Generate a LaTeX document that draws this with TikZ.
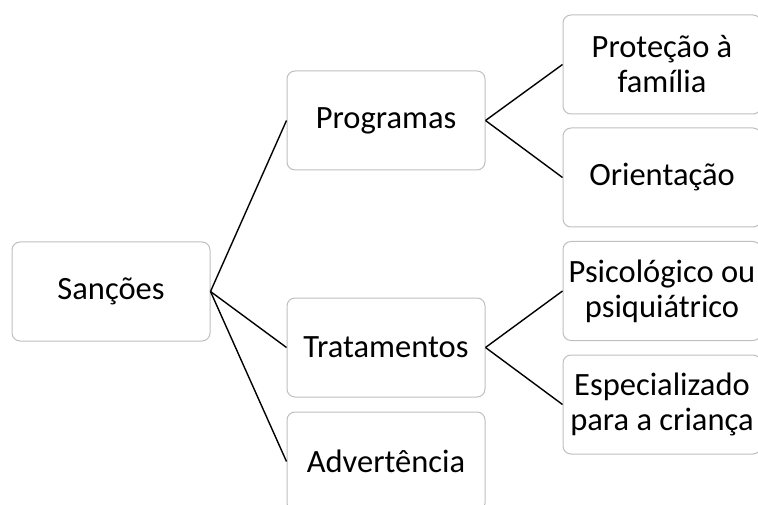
\documentclass[tikz,border=0pt]{standalone}
\usepackage{fontspec}
\setmainfont{Carlito}
\begin{document}
\begin{tikzpicture}[x=1pt,y=-1pt,
  box/.style={draw=black!25, line width=1pt, rounded corners=8pt, fill=white,
    minimum width=198pt, minimum height=99pt, inner sep=0pt, align=center,
    font=\fontsize{32.5}{35}\selectfont},
  conn/.style={draw=black, line width=1.4pt}]
\useasboundingbox (0,0) rectangle (758,505);
\clip (0,0) rectangle (758,505);
\node[box] (s) at (111,291.5) {Sanções};
\node[box] (p) at (386,120.5) {Programas};
\node[box] (t) at (386,347.5) {Tratamentos};
\node[box] (a) at (386,461.5) {Advertência};
\node[box] (pf) at (662,64.5) {Proteção à\\família};
\node[box] (o) at (662,177.5) {Orientação};
\node[box] (ps) at (662,291) {Psicológico ou\\psiquiátrico};
\node[box] (e) at (662,404.5) {Especializado\\para a criança};
\draw[conn] (s.east) -- (p.west);
\draw[conn] (s.east) -- (t.west);
\draw[conn] (s.east) -- (a.west);
\draw[conn] (p.east) -- (pf.west);
\draw[conn] (p.east) -- (o.west);
\draw[conn] (t.east) -- (ps.west);
\draw[conn] (t.east) -- (e.west);
\end{tikzpicture}
\end{document}
